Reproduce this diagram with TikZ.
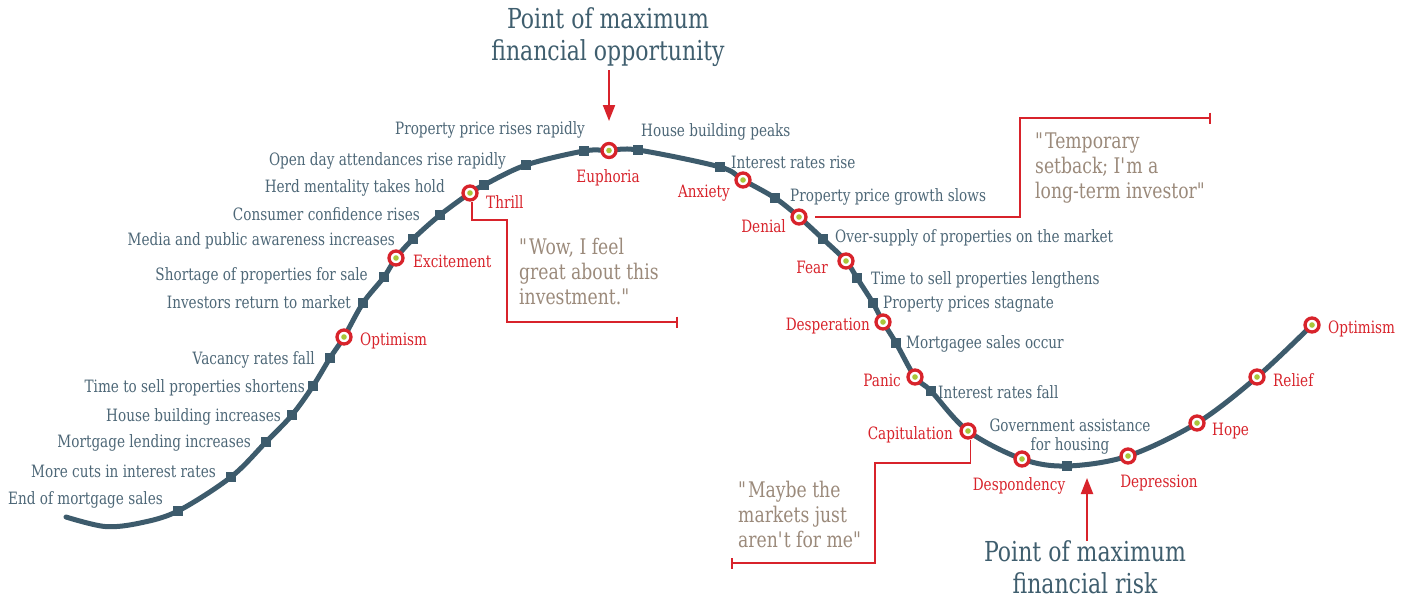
\documentclass[tikz,border=0pt]{standalone}
\usepackage{fontspec}
\setmainfont{DejaVu Serif}[FakeStretch=0.8]
\usetikzlibrary{arrows.meta}
\definecolor{curvec}{HTML}{3D5B6C}
\definecolor{labc}{HTML}{4D6777}
\definecolor{titlec}{HTML}{3F5E6E}
\definecolor{redc}{HTML}{D8232B}
\definecolor{quotec}{HTML}{9B8A7B}
\definecolor{dotc}{HTML}{A9C639}
\newcommand\mylbl{\fontsize{17}{19}\selectfont}
\newcommand\myquote{\fontsize{21.5}{25}\selectfont}
\newcommand\mytitle{\fontsize{27.5}{32}\selectfont}
\newcommand\dq{\textquotedbl}
\newcommand\sq{\textquotesingle}
\tikzset{
  curve/.style={draw=curvec, line width=5pt, line cap=round},
  sqm/.style={rectangle, fill=curvec, minimum size=9.5pt, inner sep=0pt},
  stage/.style={circle, draw=redc, line width=3.3pt, fill=white, minimum size=14pt, inner sep=0pt,
    path picture={\fill[dotc] (path picture bounding box.center) circle (2.8pt);}},
  lab/.style={font=\mylbl, text=labc, inner sep=0pt},
  labl/.style={lab, anchor=base east},
  labr/.style={lab, anchor=base west},
  stl/.style={font=\mylbl, text=redc, inner sep=0pt},
  stlL/.style={stl, anchor=base east},
  stlR/.style={stl, anchor=base west},
  stlC/.style={stl, anchor=base},
  quote/.style={font=\myquote, text=quotec, inner sep=0pt, align=left, anchor=base west},
  bigtitle/.style={font=\mytitle, text=titlec, inner sep=0pt, align=center, anchor=base},
  callout/.style={draw=redc, line width=1.8pt, -{Bar[width=11pt,line width=1.8pt]}},
  pointer/.style={draw=redc, line width=2pt, -{Triangle[length=16pt,width=12pt]}}
}
\begin{document}
\begin{tikzpicture}[x=1pt,y=-1pt]
\useasboundingbox[fill=white] (0,0) rectangle (1412,597);
% curve points
\coordinate (p0) at (66,517);
\coordinate (q1) at (105,526.5);
\coordinate (q2) at (140,523);
\coordinate (p1) at (178,511);
\coordinate (p2) at (231,477);
\coordinate (p3) at (266,442);
\coordinate (p4) at (292,415);
\coordinate (p5) at (313,386);
\coordinate (p6) at (330,358);
\coordinate (c1) at (344,337);
\coordinate (p7) at (363,303);
\coordinate (p8) at (384,277);
\coordinate (c2) at (396,258);
\coordinate (p9) at (413,239);
\coordinate (p10) at (440,215);
\coordinate (c3) at (470,193);
\coordinate (p11) at (484,185);
\coordinate (p12) at (526,165);
\coordinate (p13) at (584,151);
\coordinate (c4) at (609,150.5);
\coordinate (p14) at (638,150);
\coordinate (p15) at (720,167);
\coordinate (c5) at (743,180);
\coordinate (p16) at (775,198);
\coordinate (c6) at (799,217);
\coordinate (p17) at (823,239);
\coordinate (c7) at (846,261);
\coordinate (p18) at (857,278);
\coordinate (p19) at (873,303);
\coordinate (c8) at (883,322);
\coordinate (p20) at (896,343);
\coordinate (c9) at (915,377);
\coordinate (p21) at (931,391);
\coordinate (c10) at (968,431);
\coordinate (c11) at (1022,459);
\coordinate (p22) at (1067,466);
\coordinate (c12) at (1128,456);
\coordinate (c13) at (1197,423);
\coordinate (c14) at (1257,377);
\coordinate (c15) at (1312,325);
\draw[curve] plot[smooth, tension=0.55] coordinates {(p0) (q1) (q2) (p1) (p2) (p3) (p4) (p5) (p6) (c1) (p7) (p8) (c2) (p9) (p10) (c3) (p11) (p12) (p13) (c4) (p14) (p15) (c5) (p16) (c6) (p17) (c7) (p18) (p19) (c8) (p20) (c9) (p21) (c10) (c11) (p22) (c12) (c13) (c14) (c15)};
% square markers
\foreach \i in {1,...,22} \node[sqm] (s\i) at (p\i) {};
% stage markers
\foreach \i in {1,...,15} \node[stage] (st\i) at (c\i) {};
% event labels, left side
\node[labl] (l1) at (163,504) {End of mortgage sales};
\node[labl] (l2) at (216,477) {More cuts in interest rates};
\node[labl] (l3) at (251,447) {Mortgage lending increases};
\node[labl] (l4) at (281,421) {House building increases};
\node[labl] (l5) at (305,392) {Time to sell properties shortens};
\node[labl] (l6) at (315,364) {Vacancy rates fall};
\node[labl] (l7) at (351,308) {Investors return to market};
\node[labl] (l8) at (368,280) {Shortage of properties for sale};
\node[labl] (l9) at (395,245) {Media and public awareness increases};
\node[labl] (l10) at (420,220) {Consumer confidence rises};
\node[labl] (l11) at (445,192) {Herd mentality takes hold};
\node[labl] (l12) at (506,165) {Open day attendances rise rapidly};
\node[labl] (l13) at (585,134) {Property price rises rapidly};
% event labels, right side
\node[labr] (r1) at (641,136) {House building peaks};
\node[labr] (r2) at (731,168) {Interest rates rise};
\node[labr] (r3) at (790,201) {Property price growth slows};
\node[labr] (r4) at (835,242) {Over-supply of properties on the market};
\node[labr] (r5) at (871,284) {Time to sell properties lengthens};
\node[labr] (r6) at (883,308) {Property prices stagnate};
\node[labr] (r7) at (906,348) {Mortgagee sales occur};
\node[labr] (r8) at (938,398) {Interest rates fall};
\node[lab, align=center, anchor=base] (r9) at (1070,450) {Government assistance\\for housing};
% stage labels
\node[stlR] (n1) at (360,345) {Optimism};
\node[stlR] (n2) at (413,267) {Excitement};
\node[stlR] (n3) at (486,208) {Thrill};
\node[stlC] (n4) at (608,182) {Euphoria};
\node[stlL] (n5) at (730,197) {Anxiety};
\node[stlL] (n6) at (786,232) {Denial};
\node[stlL] (n7) at (828,273) {Fear};
\node[stlL] (n8) at (870,330) {Desperation};
\node[stlL] (n9) at (901,386) {Panic};
\node[stlL] (n10) at (953,439) {Capitulation};
\node[stlC] (n11) at (1019,490) {Despondency};
\node[stlC] (n12) at (1159,487) {Depression};
\node[stlR] (n13) at (1212,435) {Hope};
\node[stlR] (n14) at (1273,386) {Relief};
\node[stlR] (n15) at (1328,333) {Optimism};
% quotes
\node[quote] (qa) at (519,304) {\dq Wow, I feel\\great about this\\investment.\dq};
\node[quote] (qb) at (1035,198) {\dq Temporary\\setback; I\sq m a\\long-term investor\dq};
\node[quote] (qc) at (738,547) {\dq Maybe the\\markets just\\aren\sq t for me\dq};
% titles
\node[bigtitle] (t1) at (608,60) {Point of maximum\\financial opportunity};
\node[bigtitle] (t2) at (1085,593) {Point of maximum\\financial risk};
% callouts
\coordinate (ea) at (678,322);
\coordinate (eb) at (1211,118);
\coordinate (ec) at (731,563);
\coordinate (sb) at (815,217);
\draw[callout] ([xshift=2pt]st3.south) |- (507,220) |- (ea);
\draw[callout] (sb) -| (1020,118) -- (eb);
\draw[callout] ([xshift=2.5pt]st10.south) |- (875,463) |- (ec);
% pointers
\coordinate (a1s) at (609,70);
\coordinate (a1e) at (609,121);
\coordinate (a2s) at (1087,541);
\coordinate (a2e) at (1087,478);
\draw[pointer] (a1s) -- (a1e);
\draw[pointer] (a2s) -- (a2e);
\end{tikzpicture}
\end{document}
